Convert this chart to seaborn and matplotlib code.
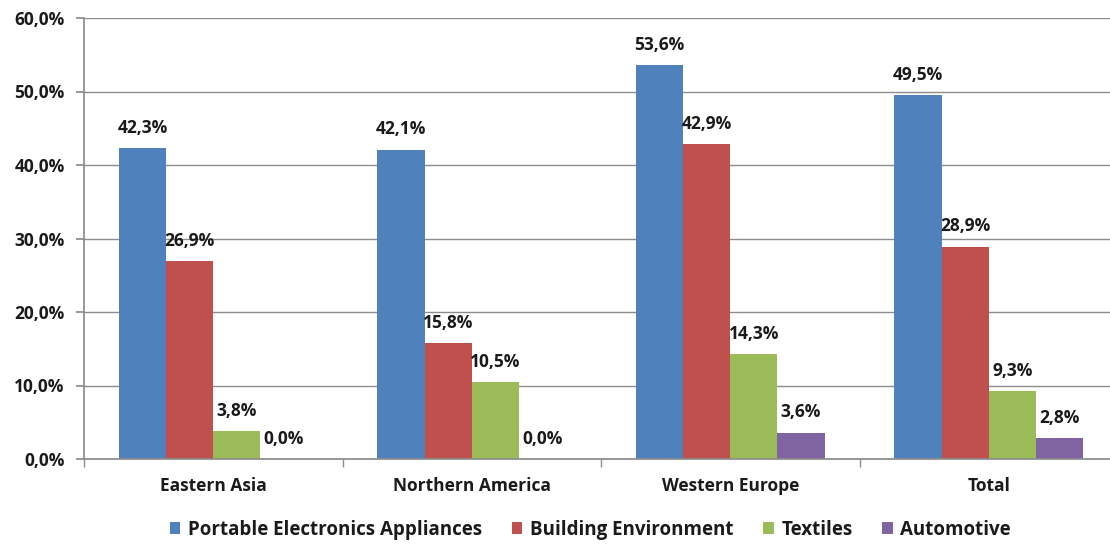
import pandas as pd
import seaborn as sns
import matplotlib.pyplot as plt
from matplotlib.patches import Patch
from matplotlib.ticker import FuncFormatter, FixedLocator

sns.set_theme(style='white')
plt.rcParams['font.family'] = ['Open Sans', 'DejaVu Sans']
plt.rcParams['font.weight'] = 'bold'

regions = ['Eastern Asia', 'Northern America', 'Western Europe', 'Total']
series = ['Portable Electronics Appliances', 'Building Environment', 'Textiles', 'Automotive']
portable = [42.3, 42.1, 53.6, 49.5]
building = [26.9, 15.8, 42.9, 28.9]
textiles = [3.8, 10.5, 14.3, 9.3]
automotive = [0.0, 0.0, 3.6, 2.8]
colors = ['#4F81BD', '#C0504D', '#9BBB59', '#8064A2']

rows = []
for name, vals in zip(series, [portable, building, textiles, automotive]):
    for reg, v in zip(regions, vals):
        rows.append({'region': reg, 'series': name, 'value': v})
df = pd.DataFrame(rows)

fig = plt.figure(figsize=(11.1, 5.45), dpi=100)
# right edge runs slightly past the image, like the cropped original
ax = fig.add_axes([84 / 1110, 86 / 545, 1034 / 1110, 441 / 545])

sns.barplot(data=df, x='region', y='value', hue='series', hue_order=series,
            palette=colors, width=0.73, saturation=1, ax=ax, legend=False,
            linewidth=0)

def fmt(v):
    return f'{v:.1f}'.replace('.', ',') + '%'

for cont in ax.containers:
    for bar in cont:
        h = bar.get_height()
        ax.annotate(fmt(h), (bar.get_x() + bar.get_width() / 2, h),
                    xytext=(0, 8), textcoords='offset points',
                    ha='center', va='bottom', fontsize=12.5, fontweight='bold',
                    color='#1a1a1a')

ax.set_ylim(0, 60)
ax.set_xlim(-0.5, 3.5)
ax.yaxis.set_major_locator(FixedLocator([0, 10, 20, 30, 40, 50, 60]))
ax.yaxis.set_major_formatter(FuncFormatter(lambda v, p: fmt(v)))
ax.yaxis.grid(True, color='#8c8c8c', linewidth=1)
ax.set_axisbelow(True)
ax.set_xlabel('')
ax.set_ylabel('')

for s in ['top', 'right']:
    ax.spines[s].set_visible(False)
ax.spines['left'].set_color('#8c8c8c')
ax.spines['bottom'].set_color('#8c8c8c')

ax.tick_params(axis='y', which='major', length=6, color='#8c8c8c', direction='out',
               left=True, labelsize=12.5, labelcolor='#1a1a1a', pad=8)
ax.tick_params(axis='x', which='major', length=0, labelsize=12.5, labelcolor='#1a1a1a', pad=13)
ax.xaxis.set_minor_locator(FixedLocator([-0.5, 0.5, 1.5, 2.5, 3.5]))
ax.tick_params(axis='x', which='minor', length=6, color='#8c8c8c', direction='out', bottom=True)
for lab in ax.get_xticklabels() + ax.get_yticklabels():
    lab.set_fontweight('bold')

handles = [Patch(facecolor=c, edgecolor='none') for c in colors]
leg = fig.legend(handles, series, loc='center', bbox_to_anchor=(0.532, 0.028), ncol=4,
                 frameon=False, handlelength=0.55, handleheight=0.55, handletextpad=0.4,
                 columnspacing=1.6, prop={'size': 13.5, 'weight': 'bold'})
for t in leg.get_texts():
    t.set_color('#1a1a1a')

fig.savefig('out.png', dpi=100)
